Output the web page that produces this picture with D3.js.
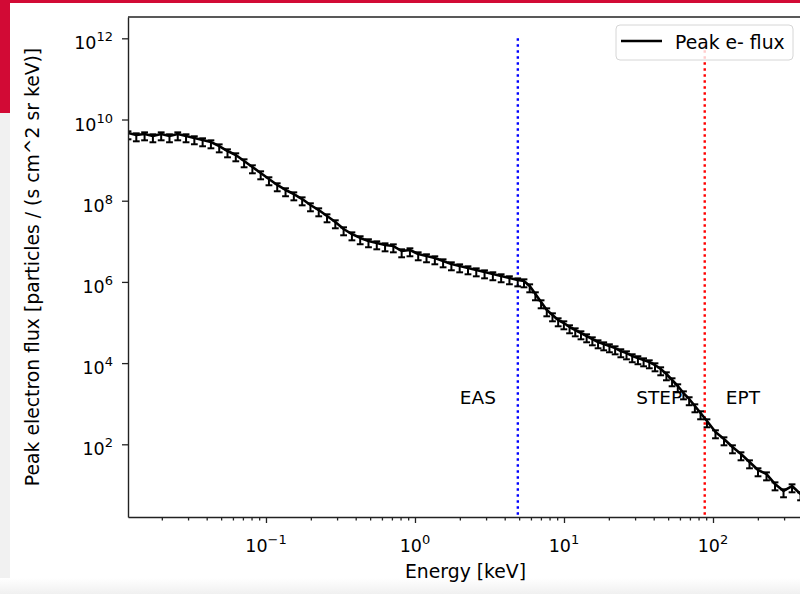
<!DOCTYPE html>
<meta charset="utf-8">
<html>
<head>
  <script src="https://d3js.org/d3.v7.min.js"></script>
  <style>
    body { margin: 0; background: #fff; overflow: hidden; }
    text { font-family: "DejaVu Sans", sans-serif; fill: #000; }
  </style>
</head>
<body>
<div id="chart"></div>
<script>
// --- data (energy in keV, flux in particles / (s cm^2 sr keV)) ---
var energyEAS = [0.01186, 0.01348, 0.01532, 0.01742, 0.01980, 0.02251, 0.02558, 0.02908, 0.03306, 0.03757,
  0.04271, 0.04855, 0.05519, 0.06273, 0.07131, 0.08106, 0.09214, 0.1047, 0.1190, 0.1353,
  0.1538, 0.1749, 0.1988, 0.2260, 0.2569, 0.2920, 0.3319, 0.3773, 0.4288, 0.4874,
  0.5541, 0.6298, 0.7159, 0.8138, 0.9250, 1.051, 1.195, 1.359, 1.544, 1.755,
  1.995, 2.268, 2.578, 2.930, 3.331, 3.786, 4.304, 4.892];
var fluxEAS = [4.65e9, 4.15e9, 4.39e9, 3.93e9, 4.39e9, 3.93e9, 4.39e9, 3.93e9, 3.51e9, 3.13e9,
  2.79e9, 2.22e9, 1.675e9, 1.336e9, 9.51e8, 6.76e8, 4.81e8, 3.43e8, 2.44e8, 1.84e8,
  1.46e8, 1.10e8, 7.84e7, 5.90e7, 4.20e7, 2.99e7, 2.01e7, 1.51e7, 1.21e7, 1.02e7,
  9.07e6, 8.10e6, 7.65e6, 5.77e6, 6.11e6, 4.87e6, 4.35e6, 3.88e6, 3.27e6, 2.76e6,
  2.46e6, 2.20e6, 1.96e6, 1.75e6, 1.57e6, 1.40e6, 1.25e6, 1.11e6];

var energySTEP = [5.39, 5.886, 6.427, 7.019, 7.665, 8.370, 9.140, 9.981, 10.90, 11.90,
  13.00, 14.19, 15.50, 16.93, 18.48, 20.18, 22.04, 24.07, 26.28, 28.70,
  31.34, 34.22, 37.37, 40.81, 44.57, 48.67, 53.14, 58.03, 63.37, 69.20,
  75.57, 82.52];
var fluxSTEP = [1.052e6, 7.92e5, 5.04e5, 3.20e5, 2.03e5, 1.53e5, 1.153e5, 9.72e4, 7.75e4, 6.53e4,
  5.51e4, 4.65e4, 3.92e4, 3.31e4, 2.95e4, 2.64e4, 2.35e4, 1.99e4, 1.77e4, 1.50e4,
  1.34e4, 1.19e4, 1.065e4, 8.98e3, 7.16e3, 5.39e3, 3.84e3, 2.73e3, 1.83e3, 1.31e3,
  8.78e2, 5.90e2];

var energyEPT = [91.1, 103.9, 118.5, 135.1, 154.1, 175.8, 200.5, 228.6, 260.8, 297.4, 339.2, 386.9];
var fluxEPT = [375, 201, 135, 85.8, 57.7, 36.6, 23.3, 18.5, 10.5, 7.08, 9.39, 5.97];

// relative error factors for the vertical error bars
var errLowFactor = 0.7;
var errHighFactor = 1.1;

// instrument boundaries and labels
var boundaryEnergy = [4.9, 88];
var boundaryColor = ["#0000ff", "#ff0000"];
var instrumentLabels = ["EAS", "STEP", "EPT"];
var labelEnergy = [2.0, 30.5, 122];
var labelFlux = 1e3;

var xTickExps = [-1, 0, 1, 2];
var yTickExps = [2, 4, 6, 8, 10, 12];

// --- layout ---
var width = 800, height = 594;
var plotLeft = 128, plotRight = 803, plotTop = 17, plotBottom = 517;

var svg = d3.select("#chart").append("svg")
    .attr("width", width)
    .attr("height", height);

var defs = svg.append("defs");

// page decoration around the figure
svg.append("rect").attr("x", 0).attr("y", 0).attr("width", width).attr("height", height).attr("fill", "#fff");
svg.append("rect").attr("x", 0).attr("y", 0).attr("width", 10).attr("height", height).attr("fill", "#f1f1f1");
svg.append("rect").attr("x", 0).attr("y", 0).attr("width", 10).attr("height", 113).attr("fill", "#d20a35");
svg.append("rect").attr("x", 0).attr("y", 0).attr("width", width).attr("height", 3).attr("fill", "#d20a35");
var grad = defs.append("linearGradient").attr("id", "fade")
    .attr("x1", 0).attr("y1", 0).attr("x2", 0).attr("y2", 1);
grad.append("stop").attr("offset", "0").attr("stop-color", "#fff");
grad.append("stop").attr("offset", "1").attr("stop-color", "#f0f0f0");
svg.append("rect").attr("x", 0).attr("y", 578).attr("width", width).attr("height", 16).attr("fill", "url(#fade)");

var x = d3.scaleLog()
    .domain([Math.pow(10, -1.926), Math.pow(10, 2.604)])
    .range([plotLeft, plotRight]);
var y = d3.scaleLog()
    .domain([Math.pow(10, 0.2094), Math.pow(10, 12.525)])
    .range([plotBottom, plotTop]);

defs.append("clipPath").attr("id", "plotclip")
  .append("rect").attr("x", plotLeft).attr("y", plotTop)
    .attr("width", plotRight - plotLeft).attr("height", plotBottom - plotTop);

var plot = svg.append("g").attr("clip-path", "url(#plotclip)");

// boundary lines
plot.selectAll("line.vline")
  .data(boundaryEnergy)
  .enter().append("line")
    .attr("class", "vline")
    .attr("x1", function(d) { return x(d); })
    .attr("x2", function(d) { return x(d); })
    .attr("y1", y(1e12))
    .attr("y2", plotBottom)
    .attr("stroke", function(d, i) { return boundaryColor[i]; })
    .attr("stroke-width", 2.4)
    .attr("stroke-dasharray", "2.4,3.6");

// the flux curve
var energy = energyEAS.concat(energySTEP, energyEPT);
var flux = fluxEAS.concat(fluxSTEP, fluxEPT);
var points = energy.map(function(e, i) { return {e: e, f: flux[i]}; });

var line = d3.line()
    .x(function(d) { return x(d.e); })
    .y(function(d) { return y(d.f); });

plot.append("path")
    .datum(points)
    .attr("d", line)
    .attr("fill", "none")
    .attr("stroke", "#000")
    .attr("stroke-width", 2.6)
    .attr("stroke-linejoin", "round");

var bars = plot.append("g").attr("stroke", "#000").attr("stroke-width", 2);
points.forEach(function(d) {
  var cx = x(d.e), lo = y(d.f * errLowFactor), hi = y(d.f * errHighFactor);
  bars.append("line").attr("x1", cx).attr("x2", cx).attr("y1", lo).attr("y2", hi);
  bars.append("line").attr("x1", cx - 3.4).attr("x2", cx + 3.4).attr("y1", lo).attr("y2", lo);
  bars.append("line").attr("x1", cx - 3.4).attr("x2", cx + 3.4).attr("y1", hi).attr("y2", hi);
});

// instrument labels
svg.selectAll("text.inst")
  .data(instrumentLabels)
  .enter().append("text")
    .attr("class", "inst")
    .attr("x", function(d, i) { return x(labelEnergy[i]); })
    .attr("y", y(labelFlux))
    .attr("font-size", 18.5)
    .attr("fill", "#1a1a1a")
    .text(function(d) { return d; });

// axes
function powLabel(sel, exp) {
  sel.append("tspan").text("10");
  sel.append("tspan").attr("dy", -8).attr("font-size", 13)
    .text(exp < 0 ? "\u2212" + (-exp) : exp);
}

var minorX = [];
[-2, -1, 0, 1, 2].forEach(function(p) {
  for (var m = 2; m <= 9; m++) {
    var v = m * Math.pow(10, p);
    if (v > x.domain()[0] && v < x.domain()[1]) minorX.push(v);
  }
});

svg.append("g").attr("transform", "translate(0," + plotBottom + ")")
    .call(d3.axisBottom(x).tickValues(xTickExps.map(function(e) { return Math.pow(10, e); }))
      .tickSize(6).tickSizeOuter(0).tickFormat(""));
svg.append("g").attr("transform", "translate(0," + plotBottom + ")")
    .call(d3.axisBottom(x).tickValues(minorX).tickSize(3.5).tickSizeOuter(0).tickFormat(""))
  .select(".domain").remove();

xTickExps.forEach(function(e) {
  svg.append("text")
    .attr("x", x(Math.pow(10, e)))
    .attr("y", 552)
    .attr("text-anchor", "middle")
    .attr("font-size", 17.5)
    .attr("fill", "#1a1a1a")
    .call(powLabel, e);
});

svg.append("g").attr("transform", "translate(" + plotLeft + ",0)")
    .call(d3.axisLeft(y).tickValues(yTickExps.map(function(e) { return Math.pow(10, e); }))
      .tickSize(6).tickSizeOuter(0).tickFormat(""));

yTickExps.forEach(function(e) {
  svg.append("text")
    .attr("x", 113)
    .attr("y", y(Math.pow(10, e)) + 11)
    .attr("text-anchor", "end")
    .attr("font-size", 17.5)
    .attr("fill", "#1a1a1a")
    .call(powLabel, e);
});

svg.selectAll(".domain").attr("stroke", "#222").attr("stroke-width", 1.4);
svg.selectAll(".tick line").attr("stroke", "#222").attr("stroke-width", 1.3);
svg.selectAll(".tick text").remove();

// top spine
svg.append("line").attr("x1", plotLeft).attr("x2", plotRight).attr("y1", plotTop).attr("y2", plotTop)
    .attr("stroke", "#222").attr("stroke-width", 1.4);

// axis labels
svg.append("text")
    .attr("x", (plotLeft + plotRight) / 2)
    .attr("y", 578)
    .attr("text-anchor", "middle")
    .attr("font-size", 18.8)
    .attr("fill", "#1a1a1a")
    .text("Energy [keV]");

svg.append("text")
    .attr("transform", "translate(39," + ((plotTop + plotBottom) / 2) + ") rotate(-90)")
    .attr("text-anchor", "middle")
    .attr("font-size", 18.8)
    .attr("fill", "#1a1a1a")
    .text("Peak electron flux [particles / (s cm^2 sr keV)]");

// legend
var legend = svg.append("g");
legend.append("rect")
    .attr("x", 616).attr("y", 25).attr("width", 177).attr("height", 35).attr("rx", 4)
    .attr("fill", "#fff").attr("fill-opacity", 0.8)
    .attr("stroke", "#d6d6d6").attr("stroke-width", 1);
legend.append("line")
    .attr("x1", 621).attr("x2", 662).attr("y1", 41).attr("y2", 41)
    .attr("stroke", "#000").attr("stroke-width", 2.6);
legend.append("text")
    .attr("x", 675).attr("y", 49)
    .attr("font-size", 18.8)
    .attr("fill", "#1a1a1a")
    .text("Peak e- flux");
</script>
</body>
</html>
